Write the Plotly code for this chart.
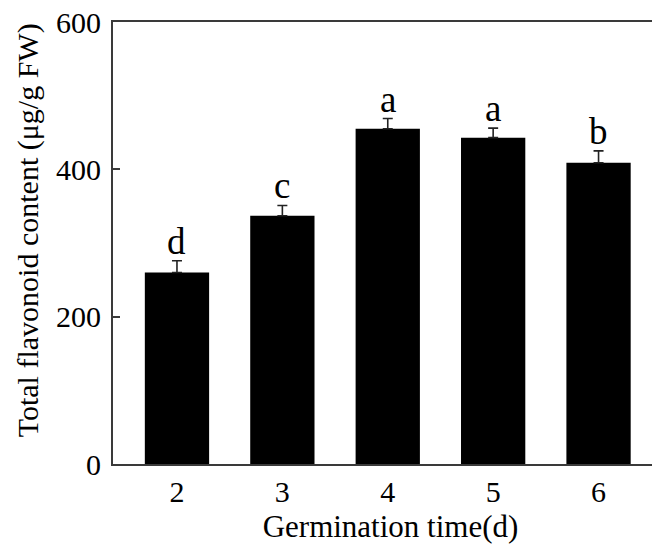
import plotly.graph_objects as go

days = ["2", "3", "4", "5", "6"]
flavonoid = [260, 337, 455, 443, 409]
err = [16, 14, 14, 13, 16]
letters = ["d", "c", "a", "a", "b"]
y_ticks = [0, 200, 400, 600]

FONT = "Liberation Serif, Times New Roman, serif"
LINE = "#3a3a3a"

fig = go.Figure()
fig.add_trace(go.Bar(
    x=days, y=flavonoid,
    marker=dict(color="black", line=dict(color="black", width=0)),
    error_y=dict(type="data", array=err, symmetric=False, arrayminus=[0] * len(err),
                 color="#222222", thickness=1.6, width=5),
    width=0.61,
))

for i, (v, e, l) in enumerate(zip(flavonoid, err, letters)):
    fig.add_annotation(x=i, y=v + e, text=l, showarrow=False, yanchor="bottom",
                       yshift=-3, font=dict(family=FONT, size=37, color="black"))

fig.add_annotation(text="Total flavonoid content (μg/g FW)", xref="paper", yref="paper",
                   x=-0.153, y=0.529,
                   textangle=-90, showarrow=False, xanchor="center", yanchor="middle",
                   font=dict(family=FONT, size=30, color="black"))

fig.update_layout(
    width=660, height=554,
    margin=dict(l=105, r=0, t=14, b=98),
    paper_bgcolor="white", plot_bgcolor="white",
    showlegend=False,
    font=dict(family=FONT, size=30, color="black"),
    xaxis=dict(
        type="category", range=[-0.607, 4.659], automargin=False,
        showline=True, linecolor=LINE, linewidth=2, mirror=True,
        ticks="", showgrid=False, zeroline=False,
        title=dict(text="Germination time(d)", font=dict(family=FONT, size=31), standoff=8),
        tickfont=dict(family=FONT, size=30),
    ),
    yaxis=dict(
        range=[0, 600], tickvals=y_ticks, ticktext=[str(t) for t in y_ticks],
        automargin=False, ticklabeloverflow="allow",
        showline=True, linecolor=LINE, linewidth=2,
        ticks="inside", ticklen=7, tickwidth=1.5, tickcolor=LINE,
        showgrid=False, zeroline=False,
        tickfont=dict(family=FONT, size=30),
        ticklabelstandoff=4,
    ),
)

fig.write_html("out.html")
